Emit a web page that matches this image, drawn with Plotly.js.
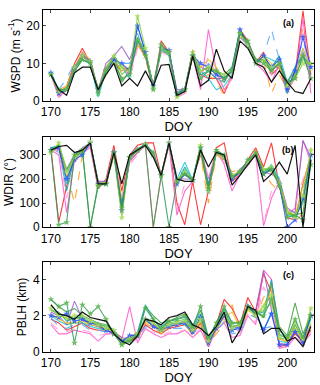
<!DOCTYPE html>
<html>
<head>
<meta charset="utf-8">
<script src="https://cdn.plot.ly/plotly-3.0.1.min.js"></script>
<style>
  html, body { margin: 0; padding: 0; background: #fff; }
  #chart { width: 320px; height: 385px; }
</style>
</head>
<body>
<div id="chart"></div>
<script>
// day of year, 170..203
const doy = [170,171,172,173,174,175,176,177,178,179,180,181,182,183,184,185,186,187,188,189,190,191,192,193,194,195,196,197,198,199,200,201,202,203];

// (a) wind speed, m/s
const wspdObs = [7,3,1.5,7.5,9,9,3,7,10,4,6,4,8,4,9.5,9.7,1.5,2.5,12,4,5.5,13.8,8,6,16,14,10,9,5,8,5,2.5,2,6];
const wspdRed = [7,1.5,4,10,14,10,2,9,10,8,9,15,12,3,16,13,2,3,13.5,7,6,6,2,7,19,16,10,13,7,9,2,7,24,7];
const wspdOrange = [7,3,4,8,12,11,3,9,11,10,7,16,11,4,14,12,3,3,12,6,7,5,1.5,7,17,15,11,11,2,7,3,6,20,9];
const wspdMagenta = [7,1,3,9,13,10,2,9,10,9,7,15,12,4,15,13,1,2,12,3,19,8,3,6,17,15,10,8,5,10,3,6,22,2];
const wspdCyan = [7,2,3,9,11,10,1,8,12,9,6,20,13,3,14,13,1,3,12,8,6,3,4,7,18,15,10,12,11,10,2,8,14,8];
const wspdLtBlue = [7.5,3,6,10,12,11,3,8,11,10,10,18,12,4,14,12,2,4,12,7,10,8,6,8,17,15,10,12,19,11,4,9,16,9];
const wspdGreen = [7.5,2.5,3,8,11,10,3,8,12,5,8,16,13,4,13,13,1,3,13,8,9,8,7,9,19,15,11,11,8,10,5,8,12,7];
const wspdPurple = [7,3,3,9,12,11,3,10,12,14.5,11,17,13,4,14,13,3,3,12,9,8,6,6,8,18,15,10,11,9,9,3,8,13,6];
const wspdYellow = [7,2,4,9,13,11,3,9,11,8,9,15,12,4,15,13,2,3,12,9,11,9,5,8,17,16,10,12,10,9,4,7,14,8];
const wspdTeal = [7.5,3,3,8,12,10,2,8,12,9,8,16,13,3,14,12,2,3,13,7,8,6,5,9,18,15,10,11,9,12,5,9,12,9];
const wspdPink = [7,1,2,8,12,10,2,8,10,10,6,14,12,3,13,12,1,2,12,5,12,7,3,6,16,15,11,9,7,11,3,6,18,4];
const wspdLime = [7,2.5,3,9,11,10,3,9,12,7,9,17,13,4,14,13,2,3,12,8,9,7,6,8,19,15,10,12,8,10,4,7,11,10];
const wspdBlueStar = [7.5,2,3,9,12,10.5,3,8,11,10,8,20,13,4,14,13.5,2,3,12,10,9,7,6,8,19,15,10,12,9,11,3,8,17,9];
const wspdGreenStar = [7,2.5,3,9,12,10.5,3,8,12,9,8,22.5,14,3.5,14,13,1,3,13,8,9,8,7,8,18,15,10,11,9,10,4,6,10,10];
const wspdDkGreen = [7,3,3,8,11,10,2,8,10,6,7,16,12,3,15,13,2,3,12,6,8,8,6,8,18,16,11,10,8,10,5,6,12,6];

// (b) wind direction, degrees
const wdirObs = [320,335,340,310,320,350,180,180,310,180,300,320,340,290,215,350,200,190,190,320,250,310,300,175,215,260,300,190,220,270,220,340,0,280];
const wdirRed = [330,20,170,300,320,340,160,200,340,150,300,340,350,350,215,350,100,10,190,10,150,330,350,190,220,280,330,250,350,170,40,30,180,300];
const wdirOrange = [310,330,230,100,300,350,190,170,300,120,280,320,340,300,220,350,200,210,200,300,100,300,280,230,240,270,320,230,180,150,90,20,60,330];
const wdirMagenta = [320,300,60,280,310,330,170,190,310,90,270,310,340,0,210,340,50,150,190,330,200,320,260,150,220,260,300,5,120,190,50,80,360,270];
const wdirCyan = [330,340,180,290,300,350,190,180,320,60,290,320,350,300,210,350,200,270,195,320,180,310,300,210,230,270,300,220,260,200,50,40,130,280];
const wdirLtBlue = [330,310,220,290,320,350,180,180,310,110,300,330,345,310,215,350,210,240,200,330,170,310,290,220,240,270,300,230,240,190,70,60,150,300];
const wdirGreen = [320,340,230,300,320,0,180,180,300,70,290,320,340,0,215,350,190,220,195,340,160,320,290,200,230,270,310,240,240,190,60,50,60,280];
const wdirPurple = [320,330,240,300,330,350,190,190,310,100,280,310,340,310,215,350,200,200,200,300,180,310,290,200,240,270,300,230,220,200,80,60,360,290];
const wdirYellow = [320,320,210,280,310,345,185,185,305,120,285,315,340,305,215,345,195,230,200,310,140,305,285,215,235,265,305,235,230,180,70,50,170,310];
const wdirTeal = [330,335,150,290,315,350,175,180,315,90,295,325,345,300,215,350,185,250,195,335,170,315,295,205,225,270,300,225,250,195,55,45,100,290];
const wdirPink = [320,320,120,270,300,340,180,180,300,130,260,300,340,330,205,345,70,180,185,320,210,300,270,170,220,255,295,15,150,200,60,90,200,260];
const wdirLime = [315,345,240,295,320,350,185,180,310,60,290,320,345,300,215,350,195,225,195,335,155,315,290,205,230,270,305,235,245,185,65,45,110,300];
const wdirBlueStar = [320,330,200,280,300,350,180,180,310,70,290,320,345,300,215,350,180,220,195,330,150,310,290,200,230,270,300,220,240,180,0,30,120,300];
const wdirGreenStar = [310,350,230,290,320,355,175,180,300,40,290,320,345,300,215,350,190,230,195,340,150,310,290,210,230,270,300,240,250,180,60,40,130,320];
const wdirDkGreen = [320,10,20,300,320,0,170,180,310,80,290,320,340,310,215,0,190,220,195,330,160,320,300,210,230,280,310,220,240,170,40,50,30,260];

// (c) boundary layer height, km
const pblhObs = [2.6,2.1,2.0,1.8,2.2,1.9,1.8,1.7,1.0,0.6,0.4,0.9,1.8,1.7,1.5,1.9,2.0,2.2,1.5,1.3,0.9,1.4,2.2,0.5,1.2,2.5,2.3,1.0,1.3,1.3,0.6,0.8,0.3,1.4];
const pblhRed = [1.8,1.6,1.2,1.4,1.6,1.3,1.2,1.2,1.0,0.5,0.6,0.8,1.5,1.2,1.0,1.3,1.4,1.5,1.0,1.6,0.3,1.5,2.9,2.4,1.5,3.0,2.2,4.3,3.3,0.3,0.4,1.0,0.6,1.2];
const pblhOrange = [2.0,1.9,1.5,1.7,1.8,1.4,1.4,1.1,1.1,0.8,0.9,1.0,1.6,1.3,1.0,1.4,1.5,1.6,0.9,1.5,0.4,1.0,1.5,2.6,1.2,2.2,1.9,3.0,3.6,0.8,0.5,1.4,0.4,1.6];
const pblhMagenta = [1.5,1.0,1.0,1.2,1.1,1.0,0.6,1.0,1.0,0.7,2.5,0.5,1.3,1.0,0.8,1.0,1.0,1.2,0.8,1.2,0.3,1.2,1.6,0.8,0.9,2.0,1.5,4.5,4.0,0.2,0.3,0.8,0.5,1.0];
const pblhCyan = [2.0,1.7,1.5,1.6,1.6,1.4,1.3,1.2,1.1,0.6,0.8,0.8,1.9,1.4,1.2,1.5,1.6,1.5,1.1,1.9,0.6,1.4,2.2,1.2,1.4,2.4,2.2,1.2,2.2,0.6,0.5,1.3,0.7,1.9];
const pblhLtBlue = [1.9,1.4,1.3,1.5,1.5,1.2,1.2,1.1,1.0,0.5,0.4,0.8,1.4,1.3,1.1,1.3,1.3,1.3,1.0,1.5,0.5,1.1,1.7,1.0,1.1,2.1,1.9,1.3,1.4,0.8,0.6,1.1,0.5,1.2];
const pblhGreen = [2.9,2.5,2.2,2.4,2.0,1.8,1.6,1.5,1.2,0.5,0.6,1.0,2.5,2.0,1.6,1.7,1.9,2.1,1.4,2.3,0.7,1.6,2.4,1.6,1.6,2.6,2.2,1.9,3.8,1.4,0.9,2.7,1.0,2.0];
const pblhPurple = [2.2,2.0,1.5,2.8,1.8,1.5,1.4,1.2,1.1,0.8,0.7,0.9,1.7,1.5,1.2,1.5,1.6,1.7,1.2,1.8,0.5,1.3,2.0,1.3,1.4,2.4,2.3,4.5,2.3,0.5,0.4,1.2,0.6,1.5];
const pblhYellow = [2.1,1.8,1.6,1.6,1.7,1.5,1.4,1.3,1.1,0.7,0.8,1.0,1.7,1.4,1.1,1.4,1.5,1.6,1.1,1.7,0.5,1.2,1.9,2.2,1.3,2.3,2.0,2.6,3.3,0.7,0.6,1.3,0.6,1.6];
const pblhTeal = [2.3,2.2,1.7,1.9,1.9,1.6,1.5,1.4,1.2,0.6,0.7,1.1,2.6,1.8,1.4,1.7,1.8,1.9,1.3,2.1,0.7,1.5,2.3,1.4,1.5,2.5,2.1,2.2,4.0,1.0,0.7,1.5,0.8,1.8];
const pblhPink = [1.6,1.2,1.1,1.3,1.2,1.1,0.9,1.0,0.9,0.6,0.5,0.7,1.2,1.1,0.9,1.1,1.1,1.2,0.9,1.3,0.4,1.4,1.8,1.6,1.0,2.1,1.6,3.6,2.5,0.4,0.3,0.9,0.4,1.1];
const pblhLime = [2.3,2.1,1.8,1.8,1.9,1.6,1.6,1.4,1.1,0.5,0.7,1.0,1.9,1.6,1.3,1.6,1.7,1.8,1.2,1.9,0.6,1.5,2.1,1.4,1.5,2.4,2.1,2.3,2.7,0.9,0.8,1.5,0.7,2.2];
const pblhBlueStar = [2.0,1.9,2.1,1.7,1.8,1.6,1.5,1.2,1.0,0.6,0.9,0.9,1.8,1.4,1.2,1.4,1.5,1.6,1.1,1.9,0.5,1.3,2.0,1.2,1.3,2.5,2.1,1.2,2.1,0.4,0.4,1.1,0.5,2.0];
const pblhGreenStar = [2.4,2.0,1.9,2.0,2.0,1.7,1.5,1.3,1.2,0.4,0.7,1.0,1.8,1.6,1.2,1.5,1.6,1.7,1.2,1.8,0.6,1.4,2.1,1.3,1.5,2.4,2.0,2.5,3.1,0.8,0.7,1.6,0.7,2.4];
const pblhDkGreen = [2.9,2.5,2.7,0.5,2.6,2.1,2.5,1.8,1.0,0.4,0.6,0.9,2.4,1.8,1.3,1.7,1.8,2.0,1.4,2.5,0.8,1.6,2.5,1.6,1.6,2.5,2.2,2.0,2.9,1.2,0.8,1.8,0.8,2.0];

// member styles, same order for each panel
const memberStyles = [
    { color: '#ff1a1a', dash: 'solid' },
    { color: '#ff9a1a', dash: 'dash' },
    { color: '#ff55cc', dash: 'solid' },
    { color: '#12c8d8', dash: 'solid' },
    { color: '#4fa8ff', dash: 'dash' },
    { color: '#3aa03a', dash: 'solid' },
    { color: '#9a5fc8', dash: 'solid' },
    { color: '#e8c81a', dash: 'solid' },
    { color: '#1aa89a', dash: 'solid' },
    { color: '#ff99cc', dash: 'dash' },
    { color: '#66c833', dash: 'solid' },
    { color: '#1a3cff', dash: 'solid', star: '#2a55ff' },
    { color: '#8ccc3a', dash: 'solid', star: '#a5dc55' },
    { color: '#2f9a5a', dash: 'solid', star: '#55b04a' },
];

const panels = [
    { ax: '', members: [wspdRed, wspdOrange, wspdMagenta, wspdCyan, wspdLtBlue, wspdGreen, wspdPurple, wspdYellow, wspdTeal, wspdPink, wspdLime, wspdBlueStar, wspdGreenStar, wspdDkGreen], obs: wspdObs },
    { ax: '2', members: [wdirRed, wdirOrange, wdirMagenta, wdirCyan, wdirLtBlue, wdirGreen, wdirPurple, wdirYellow, wdirTeal, wdirPink, wdirLime, wdirBlueStar, wdirGreenStar, wdirDkGreen], obs: wdirObs },
    { ax: '3', members: [pblhRed, pblhOrange, pblhMagenta, pblhCyan, pblhLtBlue, pblhGreen, pblhPurple, pblhYellow, pblhTeal, pblhPink, pblhLime, pblhBlueStar, pblhGreenStar, pblhDkGreen], obs: pblhObs },
];

const traces = [];
panels.forEach(p => {
    p.members.forEach((vals, i) => {
        const st = memberStyles[i];
        const t = {
            x: doy, y: vals,
            xaxis: 'x' + p.ax, yaxis: 'y' + p.ax,
            type: 'scatter',
            mode: 'lines',
            line: { color: st.color, width: 1.1, dash: st.dash },
            opacity: 0.85,
            hoverinfo: 'skip',
        };
        if (st.star) {
            t.mode = 'lines+markers';
            t.marker = { symbol: 'star', size: 5, color: st.star };
        }
        traces.push(t);
    });
    traces.push({
        x: doy, y: p.obs,
        xaxis: 'x' + p.ax, yaxis: 'y' + p.ax,
        type: 'scatter', mode: 'lines',
        line: { color: '#111', width: 1.2 },
        hoverinfo: 'skip',
    });
});

const font = { family: 'Liberation Sans, Arial, sans-serif', size: 12, color: '#000' };

function xAxis(anchor) {
    return {
        anchor: anchor, range: [169, 203.4],
        tickvals: [170, 175, 180, 185, 190, 195, 200],
        ticks: 'inside', ticklen: 3, mirror: 'ticks', showline: true,
        linecolor: '#000', linewidth: 1, showgrid: false, zeroline: false,
        tickfont: { size: 12 },
        title: { text: 'DOY', font: { size: 13 }, standoff: 1 },
    };
}
function yAxis(anchor, domain, range, ticks, title) {
    return {
        anchor: anchor, domain: domain, range: range, tickvals: ticks,
        ticks: 'inside', ticklen: 3, mirror: 'ticks', showline: true,
        linecolor: '#000', linewidth: 1, showgrid: false, zeroline: false,
        tickfont: { size: 12 },
        title: { text: title, font: { size: 12 }, standoff: 3 },
    };
}

const layout = {
    width: 320, height: 385,
    margin: { l: 43, r: 6, t: 10, b: 33 },
    paper_bgcolor: '#fff', plot_bgcolor: '#fff',
    font: font,
    showlegend: false,
    xaxis: xAxis('y'),
    yaxis: yAxis('x', [0.734, 1], [0, 24.2], [0, 10, 20], 'WSPD (m s<sup>-1</sup>)'),
    xaxis2: xAxis('y2'),
    yaxis2: yAxis('x2', [0.365, 0.629], [0, 375], [0, 100, 200, 300], 'WDIR (°)'),
    xaxis3: xAxis('y3'),
    yaxis3: yAxis('x3', [0, 0.263], [0, 4.95], [0, 2, 4], 'PBLH (km)'),
    annotations: [
        { text: '<b>(a)</b>', xref: 'x domain', yref: 'y domain', x: 0.935, y: 0.93, showarrow: false, font: { size: 9 } },
        { text: '<b>(b)</b>', xref: 'x2 domain', yref: 'y2 domain', x: 0.935, y: 0.93, showarrow: false, font: { size: 9 } },
        { text: '<b>(c)</b>', xref: 'x3 domain', yref: 'y3 domain', x: 0.935, y: 0.93, showarrow: false, font: { size: 9 } },
    ],
};

Plotly.newPlot('chart', traces, layout, { staticPlot: true, displayModeBar: false });
</script>
</body>
</html>
